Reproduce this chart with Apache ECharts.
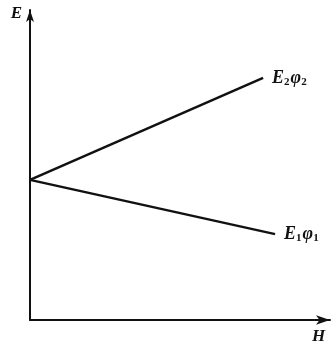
<!DOCTYPE html>
<html>
<head>
<meta charset="utf-8">
<script src="https://cdn.jsdelivr.net/npm/echarts@6/dist/echarts.min.js"></script>
<style>
  html, body { margin: 0; padding: 0; background: #fff; }
  #main { width: 333px; height: 343px; }
</style>
</head>
<body>
<div id="main"></div>
<script>
// two straight lines fanning out from a common point on the E axis
var upperLine = [[0, 45.2], [77.7, 78.1]];
var lowerLine = [[0, 45.2], [81.7, 27.7]];
var lineNames = ['E2φ2', 'E1φ1'];
var lineSubs = ['2', '1'];
var axisNames = ['H', 'E'];

var font = 'Liberation Serif';
var myChart = echarts.init(document.getElementById('main'));

var richText = {
  b: { fontFamily: font, fontStyle: 'italic', fontWeight: 'bold', fontSize: 18, color: '#111' },
  s: { fontFamily: font, fontWeight: 'bold', fontSize: 11, color: '#111', padding: [9, 1, 0, 0] }
};

function makeLine(idx, data) {
  return {
    name: lineNames[idx], type: 'line', data: data, symbol: 'none',
    lineStyle: { color: '#111', width: 2.5 },
    endLabel: {
      show: true, distance: 9,
      formatter: '{b|E}{s|' + lineSubs[idx] + '}{b|φ}{s|' + lineSubs[idx] + '}',
      rich: richText
    }
  };
}

var option = {
  animation: false,
  grid: { left: 30, right: 3, top: 10, bottom: 23, outerBoundsMode: 'none' },
  xAxis: {
    type: 'value', min: 0, max: 100,
    name: axisNames[0], nameLocation: 'end', nameGap: -18,
    nameTextStyle: { fontFamily: font, fontStyle: 'italic', fontWeight: 'bold', fontSize: 17, color: '#111',
      verticalAlign: 'top', padding: [8, 0, 0, 0] },
    axisLine: { lineStyle: { color: '#111', width: 2 }, symbol: ['none', 'arrow'], symbolSize: [7, 14] },
    axisTick: { show: false }, axisLabel: { show: false }, splitLine: { show: false }
  },
  yAxis: {
    type: 'value', min: 0, max: 100,
    name: axisNames[1], nameLocation: 'end', nameGap: -12,
    nameTextStyle: { fontFamily: font, fontStyle: 'italic', fontWeight: 'bold', fontSize: 17, color: '#111',
      align: 'right', padding: [0, 8, 0, 0] },
    axisLine: { lineStyle: { color: '#111', width: 2 }, symbol: ['none', 'arrow'], symbolSize: [6, 12] },
    axisTick: { show: false }, axisLabel: { show: false }, splitLine: { show: false }
  },
  series: [makeLine(0, upperLine), makeLine(1, lowerLine)]
};

myChart.setOption(option);
</script>
</body>
</html>
